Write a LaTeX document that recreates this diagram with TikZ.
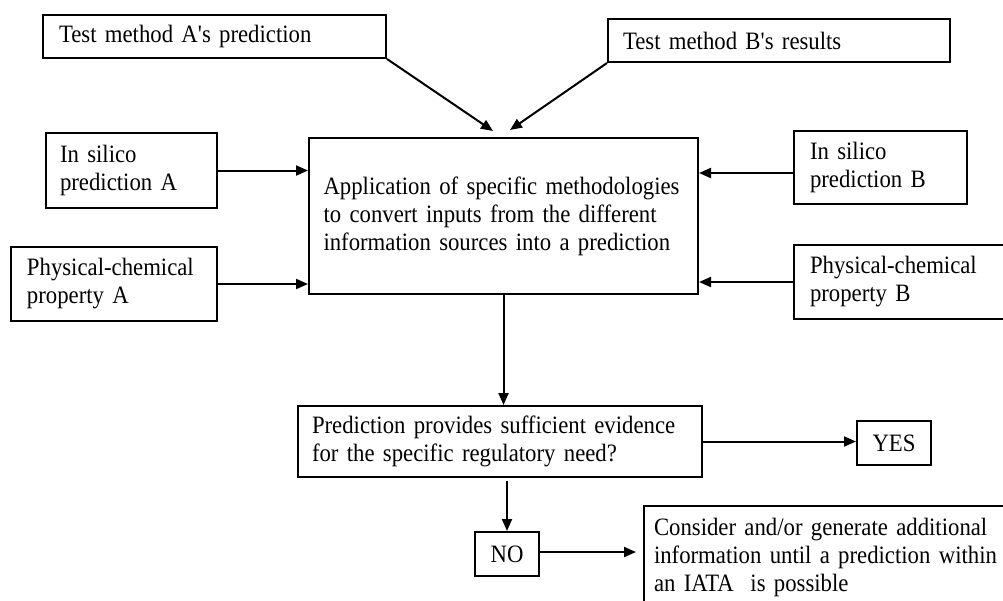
\documentclass[tikz,border=0pt]{standalone}
\usepackage{fontspec}
\setmainfont{Liberation Serif}[FakeStretch=0.91,Ligatures=TeXOff]
\usetikzlibrary{arrows.meta}
\begin{document}
\begin{tikzpicture}[x=1pt,y=-1pt,
  font=\fontsize{25}{28}\selectfont,
  box/.style n args={3}{draw,line width=2pt,inner sep=0pt,minimum width=#1,minimum height=#2,text width=#3,align=left},
  sbox/.style 2 args={draw,line width=2pt,inner sep=0pt,minimum width=#1,minimum height=#2,align=center},
  arr/.style={line width=2pt,-{Triangle[length=12pt,width=10pt]}}]
\fill[white] (0,0) rectangle (1003,600);
\useasboundingbox (0,0) rectangle (1003,600);
\clip (0,0) rectangle (1003,600);
\node[box={343pt}{43pt}{311pt}] (tA) at (214.5,36.5) {Test method A's prediction};
\node[box={342pt}{43pt}{312pt}] (tB) at (779,40.5) {Test method B's results};
\node[box={171pt}{75pt}{143pt}] (sA) at (131.5,170.5) {In silico\\prediction A};
\node[box={206pt}{74pt}{174pt}] (pA) at (114,284) {Physical-chemical\\property A};
\node[box={389pt}{156pt}{360pt}] (C) at (503.5,216) {\makebox[360pt][s]{Application of specific methodologies}\\\makebox[360pt][s]{to convert inputs from the different}\\information sources into a prediction};
\node[box={173pt}{73pt}{141pt}] (sB) at (880.5,167.5) {In silico\\prediction B};
\node[box={230pt}{74pt}{198pt}] (pB) at (909,282) {Physical-chemical\\property B};
\node[box={404pt}{71pt}{376pt}] (P) at (500,441.5) {Prediction provides sufficient evidence\\for the specific regulatory need?};
\node[sbox={74pt}{44pt}] (yes) at (894,443) {YES};
\node[sbox={64pt}{44pt}] (no) at (507,554) {NO};
\node[box={376pt}{102pt}{356pt}] (K) at (832,557) {Consider and/or generate additional\\information until a prediction within\\an IATA\ \ is possible};
\coordinate (ta) at (493,131);
\coordinate (tb) at (510,130);
\draw[arr] (tA.south east) -- (ta);
\draw[arr] (tB.south west) -- (tb);
\draw[arr] (sA.east) -- (sA.east -| C.west);
\draw[arr] (pA.east) -- (pA.east -| C.west);
\draw[arr] ([yshift=-5.5pt]sB.west) -- ([yshift=-5.5pt]sB.west -| C.east);
\draw[arr] (pB.west) -- (pB.west -| C.east);
\draw[arr] (C.south) -- (C.south |- P.north);
\draw[arr] (P.east) -- (P.east -| yes.west);
\draw[arr,shorten <=3pt] (no.north |- P.south) -- (no.north);
\draw[arr,shorten >=7pt] ([yshift=2pt]no.east) -- ([yshift=2pt]no.east -| K.west);
\end{tikzpicture}
\end{document}
